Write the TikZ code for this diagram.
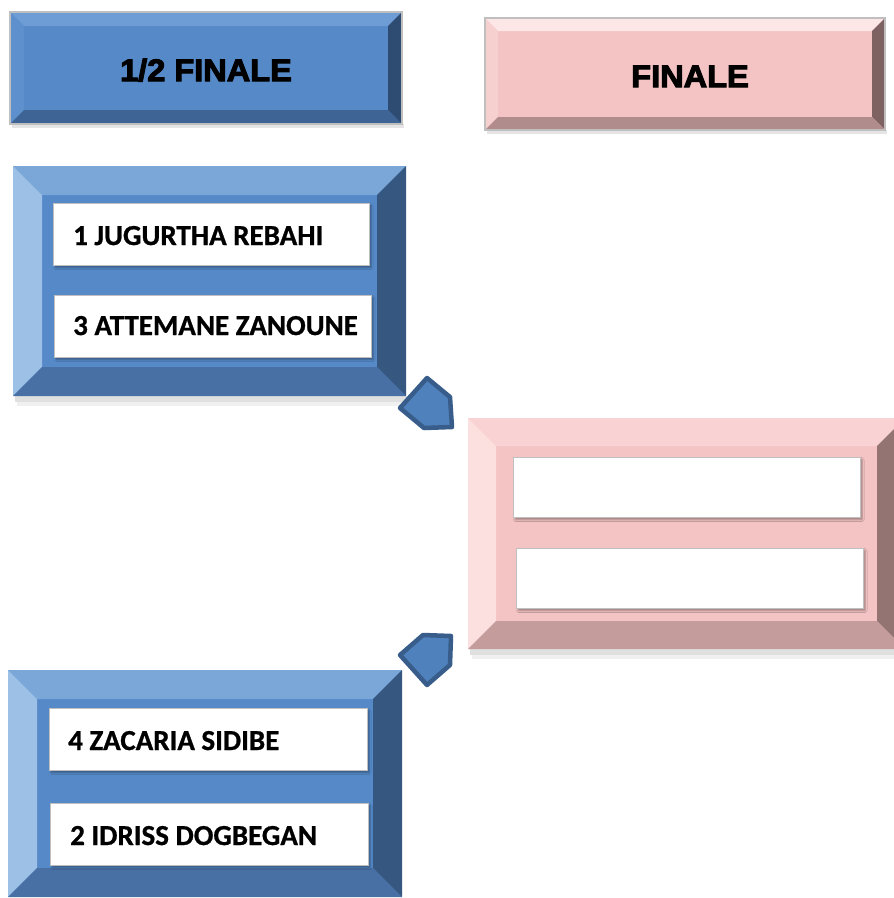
\documentclass[tikz,border=0pt]{standalone}
\usepackage{fontspec}
\setmainfont{Carlito}
\newfontfamily\hdrfont{Liberation Sans}[BoldFeatures={FakeBold=3.2}]
\newfontfamily\namefont{Carlito}[BoldFeatures={FakeBold=0.8}]
\usetikzlibrary{shadows.blur}
\definecolor{bluetop}{HTML}{7BA7D8}
\definecolor{blueleft}{HTML}{9DC0E6}
\definecolor{bluecenter}{HTML}{5589C8}
\definecolor{bluebottom}{HTML}{4870A5}
\definecolor{blueright}{HTML}{36577F}
\definecolor{pinktop}{HTML}{F9D3D3}
\definecolor{pinkleft}{HTML}{FCE0E0}
\definecolor{pinkcenter}{HTML}{F4C3C3}
\definecolor{pinkbottom}{HTML}{C49C9C}
\definecolor{pinkright}{HTML}{947373}
\definecolor{hbluetop}{HTML}{6E9DD6}
\definecolor{hblueleft}{HTML}{5E90CD}
\definecolor{hbluecenter}{HTML}{5589C8}
\definecolor{hblueright}{HTML}{2E4C72}
\definecolor{hbluebottom}{HTML}{3D6494}
\definecolor{hpinktop}{HTML}{FCE6E6}
\definecolor{hpinkleft}{HTML}{F6CFCF}
\definecolor{hpinkcenter}{HTML}{F4C3C3}
\definecolor{hpinkright}{HTML}{7E6262}
\definecolor{hpinkbottom}{HTML}{B08C8C}
\definecolor{pentfill}{HTML}{4F81BD}
\definecolor{pentline}{HTML}{385D8A}
\definecolor{frame}{HTML}{BFBFBF}
% x1 y1 x2 y2 bevel colourprefix
\newcommand{\bevelbox}[6]{%
  \fill[#6center] (#1,#2) rectangle (#3,#4);
  \fill[#6top] (#1,#2) -- (#3,#2) -- ({#3-#5},{#2+#5}) -- ({#1+#5},{#2+#5}) -- cycle;
  \fill[#6left] (#1,#2) -- ({#1+#5},{#2+#5}) -- ({#1+#5},{#4-#5}) -- (#1,#4) -- cycle;
  \fill[#6right] (#3,#2) -- (#3,#4) -- ({#3-#5},{#4-#5}) -- ({#3-#5},{#2+#5}) -- cycle;
  \fill[#6bottom] (#1,#4) -- (#3,#4) -- ({#3-#5},{#4-#5}) -- ({#1+#5},{#4-#5}) -- cycle;
}
\tikzset{
  wbox/.style={draw=frame, line width=1.2pt, fill=white, minimum width=#1, minimum height=62pt, inner sep=0pt, anchor=north west,
    blur shadow={shadow xshift=1.5pt, shadow yshift=-2pt, shadow blur steps=4, shadow opacity=35}},
  namelbl/.style={font=\namefont\bfseries\fontsize{29}{30}\selectfont, anchor=base west, inner sep=0pt},
  hdrlbl/.style={font=\hdrfont\bfseries\fontsize{31}{32}\selectfont, anchor=base, inner sep=0pt, xscale=1.05},
  pent/.style={fill=pentfill, draw=pentline, line width=4.5pt, line join=round},
  bigshadow/.style={fill=black, opacity=0.12},
}
\begin{document}
\begin{tikzpicture}[x=1pt,y=-1pt]
\useasboundingbox (0,0) rectangle (894,898);
\clip (0,0) rectangle (894,898);
\fill[white] (0,0) rectangle (894,898);

% ---------- headers ----------
\fill[black, opacity=0.10] (12,124) rectangle (404,128);
\bevelbox{10}{12}{402}{124}{14}{hblue}
\draw[frame, line width=1.5pt] (10,12) rectangle (402,124);
\node[hdrlbl] (h1) at (206,81) {1/2 FINALE};

\fill[black, opacity=0.10] (487,130) rectangle (887,134);
\bevelbox{485}{18}{885}{130}{13}{hpink}
\draw[frame, line width=1.5pt] (485,18) rectangle (885,130);
\node[hdrlbl] (h2) at (690,87) {FINALE};

% ---------- semifinal 1 ----------
\fill[bigshadow] (15,396) rectangle (408,402);
\fill[black, opacity=0.06] (17,402) rectangle (408,406);
\bevelbox{13}{166}{406}{396}{29}{blue}
\node[wbox=316pt] (w1) at (53,203) {};
\node[wbox=317pt] (w2) at (54,295) {};
\node[namelbl] (t1) at (73,245) {1 JUGURTHA REBAHI};
\node[namelbl] (t2) at (73,335) {3 ATTEMANE ZANOUNE};

% ---------- final ----------
\fill[bigshadow] (470,649) rectangle (894,655);
\fill[black, opacity=0.06] (472,655) rectangle (894,659);
\bevelbox{468}{418}{905}{649}{28}{pink}
\node[wbox=347pt, minimum height=60pt] (w5) at (513,457) {};
\node[wbox=347pt, minimum height=60pt] (w6) at (516,548) {};

% ---------- semifinal 2 ----------
\bevelbox{8}{670}{402}{897}{29}{blue}
\node[wbox=318pt] (w3) at (49,708) {};
\node[wbox=318pt] (w4) at (50,803) {};
\node[namelbl] (t3) at (68,750) {4 ZACARIA SIDIBE};
\node[namelbl] (t4) at (70,845) {2 IDRISS DOGBEGAN};

% ---------- pentagon markers ----------
\draw[pent] (400,408) -- (427,378) -- (450,397) -- (452,427) -- (424,428) -- cycle;
\draw[pent] (400,655) -- (423,635) -- (451,636) -- (450,665) -- (427,685) -- cycle;
\end{tikzpicture}
\end{document}
